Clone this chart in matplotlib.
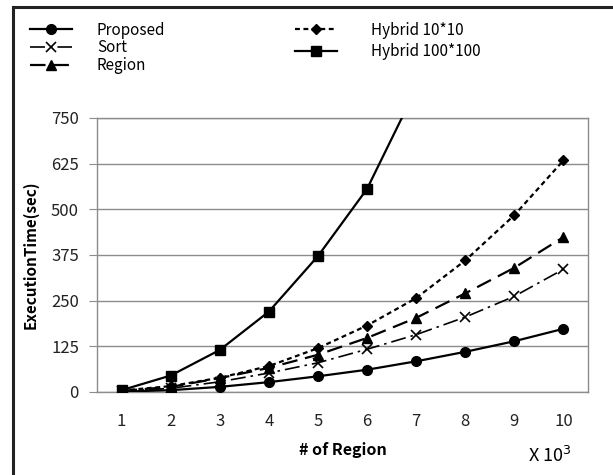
import matplotlib
matplotlib.use("Agg")
import matplotlib.pyplot as plt
from matplotlib.lines import Line2D

plt.rcParams['font.family'] = ['Noto Sans CJK KR', 'DejaVu Sans']

regions = [1, 2, 3, 4, 5, 6, 7, 8, 9, 10]
proposed = [1, 5, 14, 27, 43, 61, 84, 110, 139, 173]
sort_v = [2, 10, 28, 52, 80, 117, 157, 205, 262, 336]
region_v = [3, 14, 38, 66, 102, 148, 203, 270, 340, 424]
hybrid10 = [4, 16, 39, 71, 120, 182, 257, 360, 484, 634]
hybrid100_x = [1, 2, 3, 4, 5, 6, 7]
hybrid100 = [5, 45, 115, 220, 372, 556, 830]
yticks = [0, 125, 250, 375, 500, 625, 750]

fig = plt.figure(figsize=(6.13, 4.75), dpi=100)
ax = fig.add_axes([97/613, 1-392/475, (588-97)/613, (392-118)/475])

lw = 1.6
ax.plot(regions, proposed, color='black', lw=lw, ls='-', marker='o', ms=7, label='Proposed', zorder=5)
ax.plot(regions, sort_v, color='black', lw=1.2, ls=(0, (9, 3, 1.5, 3)), marker='x', ms=7, mew=1.2, label='Sort', zorder=4)
ax.plot(regions, region_v, color='black', lw=1.6, ls=(0, (7, 3.5)), marker='^', ms=7, label='Region', zorder=4)
ax.plot(regions, hybrid10, color='black', lw=1.6, ls=(0, (2.2, 1.6)), marker='D', ms=5, label='Hybrid 10*10', zorder=4)
ax.plot(hybrid100_x, hybrid100, color='black', lw=lw, ls='-', marker='s', ms=7, label='Hybrid 100*100', zorder=5)

ax.set_xlim(0.5, 10.5)
ax.set_ylim(0, 750)
ax.set_yticks(yticks)
ax.set_yticklabels([str(v) for v in yticks])
ax.set_xticks(regions)
ax.set_xticklabels([str(v) for v in regions])
ax.grid(axis='y', color='#8c8c8c', lw=1.0)
ax.set_axisbelow(True)
for s in ['left', 'right', 'top', 'bottom']:
    ax.spines[s].set_color('#8c8c8c')
    ax.spines[s].set_linewidth(1.0)
ax.tick_params(axis='y', length=6, color='#8c8c8c', labelsize=12, labelcolor='#222222', pad=7)
ax.tick_params(axis='x', length=0, labelsize=12, labelcolor='#222222', pad=15)

ax.set_ylabel('ExecutionTime(sec)', fontsize=11, fontweight='bold', labelpad=9)
ax.set_xlabel('# of Region', fontsize=11.5, fontweight='bold', labelpad=9)
fig.text(550/613, 1-456/475, 'X 10$^3$', fontsize=13, ha='center', va='center')

handles, labels = ax.get_legend_handles_labels()
leg1 = fig.legend(handles[:3], labels[:3], loc='upper left', bbox_to_anchor=(22/613, 1-14/475),
                  frameon=False, fontsize=11, handlelength=2.8, handletextpad=1.6,
                  labelspacing=0.05, borderpad=0, numpoints=1)
leg2 = fig.legend(handles[3:], labels[3:], loc='upper left', bbox_to_anchor=(287/613, 1-14/475),
                  frameon=False, fontsize=11, handlelength=2.8, handletextpad=2.2,
                  labelspacing=0.3, borderpad=0, numpoints=1)

# figure frame (left and top edges visible)
fig.add_artist(Line2D([13/613, 13/613], [0, 1-7/475], transform=fig.transFigure, color='#222222', lw=2.2))
fig.add_artist(Line2D([13/613, 1], [1-7/475, 1-7/475], transform=fig.transFigure, color='#222222', lw=2.2))

fig.savefig('out.png', dpi=100)
